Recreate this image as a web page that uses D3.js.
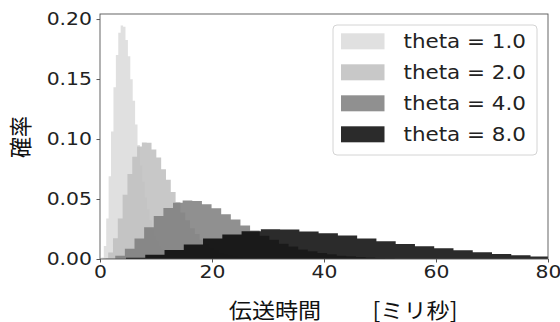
<!DOCTYPE html>
<html>
<head>
<meta charset="utf-8">
<script src="https://cdn.jsdelivr.net/npm/d3@7"></script>
<style>
  body { margin: 0; background: #fff; }
  svg { display: block; }
</style>
</head>
<body>
<div class="chart"></div>
<script>
// legend labels and the gamma-shaped histograms
const thetas = ["theta = 1.0", "theta = 2.0", "theta = 4.0", "theta = 8.0"];
const binStart = [0.25, 0.6, 1.0, 1.2];
const binWidth = [0.43, 0.86, 1.72, 3.44];

const h1 = [0.0012, 0.0108, 0.0338, 0.0690, 0.1062, 0.1431, 0.1700, 0.1885, 0.1946, 0.1935,
	0.1826, 0.1690, 0.1498, 0.1318, 0.1121, 0.0950, 0.0779, 0.0643, 0.0512, 0.0415,
	0.0322, 0.0257, 0.0196, 0.0154, 0.0115, 0.0090, 0.0066, 0.0051, 0.0037, 0.0029,
	0.0020, 0.0015, 0.0011, 0.0008, 0.0006, 0.0004, 0.0003];
const h2 = [0.0006, 0.0055, 0.0172, 0.0338, 0.0536, 0.0709, 0.0853, 0.0937, 0.0972, 0.0968,
	0.0912, 0.0846, 0.0748, 0.0661, 0.0559, 0.0476, 0.0388, 0.0322, 0.0257, 0.0208,
	0.0161, 0.0129, 0.0098, 0.0077, 0.0057, 0.0045, 0.0033, 0.0026, 0.0018, 0.0014,
	0.0010, 0.0008, 0.0005, 0.0004];
const h4 = [0.0003, 0.0027, 0.0086, 0.0171, 0.0265, 0.0358, 0.0425, 0.0468, 0.0487, 0.0484,
	0.0456, 0.0422, 0.0374, 0.0330, 0.0279, 0.0238, 0.0194, 0.0161, 0.0128, 0.0104,
	0.0080, 0.0065, 0.0049, 0.0039, 0.0028, 0.0023, 0.0016, 0.0013, 0.0009, 0.0007];
const h8 = [0.0001, 0.0010, 0.0035, 0.0076, 0.0121, 0.0170, 0.0205, 0.0232, 0.0248, 0.0245,
	0.0229, 0.0214, 0.0196, 0.0170, 0.0147, 0.0124, 0.0106, 0.0090, 0.0072, 0.0056,
	0.0042, 0.0031, 0.0020];

const xTicks = [0, 20, 40, 60, 80];
const yTicks = [0, 0.05, 0.10, 0.15, 0.20];

const width = 560;
const height = 322;
const plot = { left: 100, right: 548, top: 14, bottom: 259 };
const fills = ["#dadada", "#bebebe", "#7c7c7c", "#060606"];
const alpha = 0.85;
const stretch = 1.1; // the reference text is a little wider than tall
const font = "DejaVu Sans, Verdana, sans-serif";
const jpFont = "'Noto Sans CJK JP', 'Noto Sans CJK SC', sans-serif";

const x = d3.scaleLinear().domain([0, 80]).range([plot.left, plot.right]);
const y = d3.scaleLinear().domain([0, 0.2042]).range([plot.bottom, plot.top]);

const svg = d3.select(".chart")
	.append("svg")
	.attr("width", width)
	.attr("height", height);

svg.append("defs")
	.append("clipPath")
		.attr("id", "plotclip")
	.append("rect")
		.attr("x", plot.left)
		.attr("y", plot.top)
		.attr("width", plot.right - plot.left)
		.attr("height", plot.bottom - plot.top);

// histograms, each one as a single stepped shape
const series = [h1, h2, h4, h8].map((heights, i) => {
	const pts = heights.map((v, j) => ({ x: binStart[i] + j * binWidth[i], v: v }));
	pts.push({ x: binStart[i] + heights.length * binWidth[i], v: 0 });
	return pts;
});

const area = d3.area()
	.curve(d3.curveStepAfter)
	.x((d) => x(d.x))
	.y0(y(0))
	.y1((d) => y(d.v));

svg.append("g")
	.attr("clip-path", "url(#plotclip)")
	.selectAll("path")
	.data(series)
		.enter()
	.append("path")
		.attr("d", area)
		.attr("fill", (d, i) => fills[i])
		.attr("fill-opacity", alpha);

// axes
const xAxis = svg.append("g")
	.attr("transform", `translate(0,${plot.bottom})`)
	.call(d3.axisBottom(x).tickValues(xTicks).tickFormat(d3.format("d")).tickSize(3.5).tickPadding(2.5));
const yAxis = svg.append("g")
	.attr("transform", `translate(${plot.left},0)`)
	.call(d3.axisLeft(y).tickValues(yTicks).tickFormat(d3.format(".2f")).tickSize(3.5).tickPadding(3.8));

[xAxis, yAxis].forEach((ax) => {
	ax.select(".domain").remove();
	ax.selectAll(".tick line").attr("stroke", "#444").attr("stroke-width", 0.9);
	ax.selectAll(".tick text")
		.attr("fill", "#222")
		.style("font-family", font)
		.style("font-size", "18.5px")
		.attr("transform", `scale(${stretch},1)`);
});

svg.append("rect")
	.attr("x", plot.left)
	.attr("y", plot.top)
	.attr("width", plot.right - plot.left)
	.attr("height", plot.bottom - plot.top)
	.attr("fill", "none")
	.attr("stroke", "#555")
	.attr("stroke-width", 0.9);

// axis titles
const title = (tx, ty, str, extra) => svg.append("text")
	.attr("transform", `translate(${tx},${ty}) ${extra}`)
	.attr("text-anchor", "middle")
	.attr("dominant-baseline", "central")
	.attr("fill", "#111")
	.style("font-family", jpFont)
	.style("font-size", "21px")
	.text(str);

title(275, 308, "伝送時間", `scale(${stretch},1)`);
title(415, 308, "[ミリ秒]", `scale(${stretch},1)`);
title(19, 137, "確率", `rotate(-90) scale(1,${stretch})`);

// legend
const legend = svg.append("g");
legend.append("rect")
	.attr("x", 333)
	.attr("y", 25)
	.attr("width", 204)
	.attr("height", 130)
	.attr("rx", 4)
	.attr("fill", "#fff")
	.attr("fill-opacity", 0.8)
	.attr("stroke", "#d4d4d4")
	.attr("stroke-width", 1);

const rows = legend.selectAll("g.row")
	.data(thetas)
		.enter()
	.append("g")
		.attr("class", "row")
		.attr("transform", (d, i) => `translate(0,${41.3 + i * 31})`);

rows.append("rect")
	.attr("x", 341)
	.attr("y", -8)
	.attr("width", 43.5)
	.attr("height", 16)
	.attr("fill", (d, i) => fills[i])
	.attr("fill-opacity", alpha);

rows.append("text")
	.attr("transform", `translate(403.5,0) scale(${stretch},1)`)
	.attr("dominant-baseline", "central")
	.attr("fill", "#222")
	.style("font-family", font)
	.style("font-size", "19.5px")
	.text((d) => d);
</script>
</body>
</html>
